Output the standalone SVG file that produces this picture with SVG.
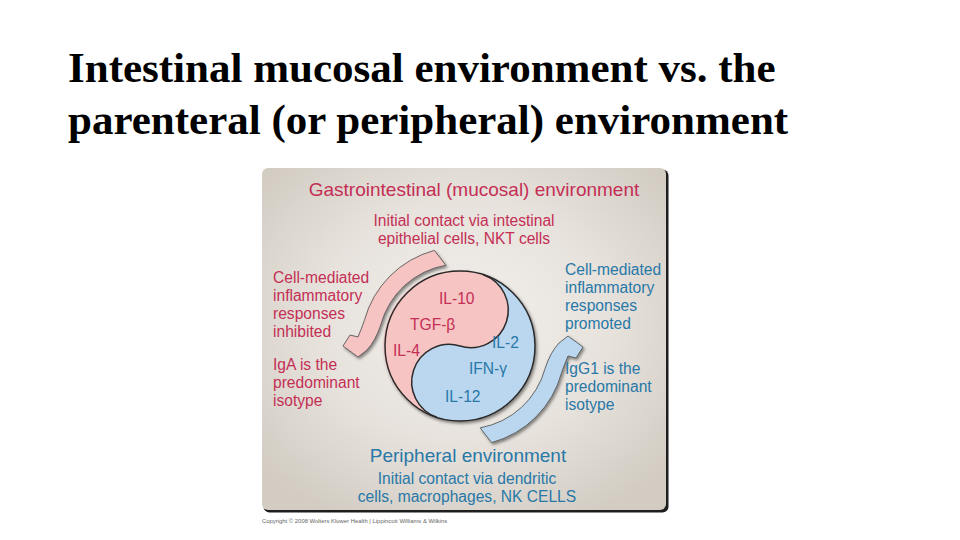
<svg xmlns="http://www.w3.org/2000/svg" width="960" height="540" viewBox="0 0 960 540">
  <defs>
    <radialGradient id="panelGrad" cx="50%" cy="45%" r="65%">
      <stop offset="0" stop-color="#f2efeb"/>
      <stop offset="0.55" stop-color="#e7e2dc"/>
      <stop offset="1" stop-color="#d2ccc3"/>
    </radialGradient>
    <filter id="shadow" x="-20%" y="-20%" width="140%" height="140%">
      <feDropShadow dx="1.5" dy="2" stdDeviation="1.5" flood-color="#000" flood-opacity="0.45"/>
    </filter>
    <path id="bentArrow" d="M 434.4 250.4 A 99 99 0 0 0 364.4 320.4 Q 361 330 358 337 L 350 335 L 343 346 L 358 357 L 367 350 Q 376 340 380.8 324.8 A 82 82 0 0 1 445.8 265.2 Z"/>
    <style>
      .title { font-family: "Liberation Serif", "Times New Roman", serif; font-weight: bold; font-size: 43px; fill: #000; }
      .t { font-family: "Liberation Sans", Arial, sans-serif; font-size: 15.6px; }
      .big { font-size: 19px; }
      .pink { fill: #c42f55; }
      .blue { fill: #2878a8; }
      .pinkFill { fill: #f6c4c3; }
      .blueFill { fill: #bad7ef; }
      .outline { stroke: #2a2a2a; stroke-width: 1.5; }
      .arrow { stroke: #4a4a4a; stroke-width: 0.8; stroke-linejoin: round; }
      .copy { font-family: "Liberation Sans", Arial, sans-serif; font-size: 5.9px; fill: #666; }
    </style>
  </defs>

  <rect width="960" height="540" fill="#ffffff"/>

  <g id="title">
    <text class="title" x="68" y="82">Intestinal mucosal environment vs. the</text>
    <text class="title" x="68" y="134">parenteral (or peripheral) environment</text>
  </g>

  <g id="panel">
    <rect x="263.5" y="169.5" width="405" height="343" rx="6" fill="#1e1e1e"/>
    <rect x="262" y="168" width="404" height="342" rx="6" fill="url(#panelGrad)"/>
  </g>

  <g id="connectors">
    <g id="arrow-mucosal" filter="url(#shadow)">
      <use href="#bentArrow" class="pinkFill arrow"/>
    </g>
    <g id="arrow-peripheral" filter="url(#shadow)">
      <use href="#bentArrow" class="blueFill arrow" transform="rotate(180 463 346.5)"/>
    </g>
  </g>

  <g id="yin-yang" filter="url(#shadow)">
    <circle cx="460" cy="346" r="75" class="blueFill"/>
    <path class="pinkFill" d="M 483.2 274.7 A 75 75 0 1 0 436.8 417.3 A 37.5 37.5 0 0 1 460 346 A 37.5 37.5 0 0 0 483.2 274.7 Z"/>
    <path fill="none" class="outline" d="M 436.8 417.3 A 37.5 37.5 0 0 1 460 346 A 37.5 37.5 0 0 0 483.2 274.7"/>
    <circle cx="460" cy="346" r="75" fill="none" class="outline"/>
  </g>

  <g id="mucosal-cytokines">
    <text class="t pink" x="439" y="303.5">IL-10</text>
    <text class="t pink" x="410" y="329.5">TGF-β</text>
    <text class="t pink" x="393" y="355.5">IL-4</text>
  </g>

  <g id="peripheral-cytokines">
    <text class="t blue" x="492" y="347.5">IL-2</text>
    <text class="t blue" x="469" y="373.5">IFN-γ</text>
    <text class="t blue" x="445" y="401.5">IL-12</text>
  </g>

  <g id="gi-environment">
    <text class="t big pink" x="474" y="196" text-anchor="middle">Gastrointestinal (mucosal) environment</text>
    <text class="t pink" x="464" y="226" text-anchor="middle">Initial contact via intestinal</text>
    <text class="t pink" x="464" y="243.5" text-anchor="middle">epithelial cells, NKT cells</text>
  </g>

  <g id="mucosal-responses">
    <text class="t pink" x="273" y="282.5">Cell-mediated</text>
    <text class="t pink" x="273" y="300.5">inflammatory</text>
    <text class="t pink" x="273" y="318.5">responses</text>
    <text class="t pink" x="273" y="336.5">inhibited</text>
    <text class="t pink" x="273" y="370">IgA is the</text>
    <text class="t pink" x="273" y="388">predominant</text>
    <text class="t pink" x="273" y="406">isotype</text>
  </g>

  <g id="peripheral-responses">
    <text class="t blue" x="565" y="274.5">Cell-mediated</text>
    <text class="t blue" x="565" y="292.5">inflammatory</text>
    <text class="t blue" x="565" y="310.5">responses</text>
    <text class="t blue" x="565" y="328.5">promoted</text>
    <text class="t blue" x="565" y="373.5">IgG1 is the</text>
    <text class="t blue" x="565" y="391.5">predominant</text>
    <text class="t blue" x="565" y="409.5">isotype</text>
  </g>

  <g id="peripheral-environment">
    <text class="t big blue" x="468" y="462" text-anchor="middle">Peripheral environment</text>
    <text class="t blue" x="467" y="483.5" text-anchor="middle">Initial contact via dendritic</text>
    <text class="t blue" x="467" y="501.5" text-anchor="middle">cells, macrophages, NK CELLS</text>
  </g>

  <g id="copyright">
    <text class="copy" x="262" y="523">Copyright © 2008 Wolters Kluwer Health | Lippincott Williams &amp; Wilkins</text>
  </g>
</svg>
